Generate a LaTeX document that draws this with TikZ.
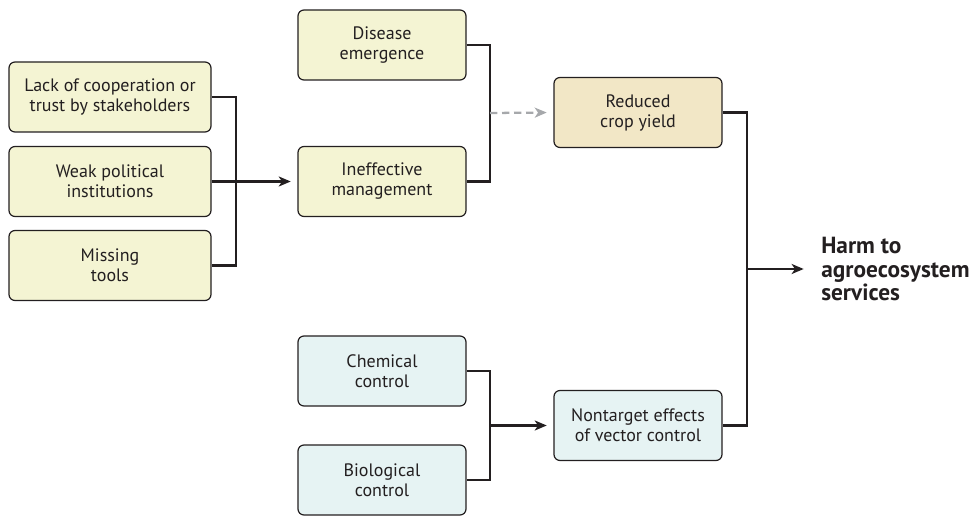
\documentclass[tikz,border=0pt]{standalone}
\usepackage{fontspec}
\setmainfont{PT Sans}
\usepackage{tikz}
\usetikzlibrary{arrows.meta}
\definecolor{ink}{HTML}{231F20}
\definecolor{boxyellow}{HTML}{F4F4D3}
\definecolor{boxtan}{HTML}{F2E7C6}
\definecolor{boxblue}{HTML}{E6F3F3}
\definecolor{dashgray}{HTML}{A6A8AB}
\tikzstyle{diagram}=[x=0.75pt, y=-0.75pt, text=ink, font=\fontsize{13.5}{15}\selectfont]
\tikzstyle{cause}=[rectangle, rounded corners=4.5pt, draw=ink, line width=0.9pt, align=center, minimum height=52.5pt]
\tikzstyle{wide}=[cause, minimum width=151.5pt]
\tikzstyle{narrow}=[cause, minimum width=126pt]
\tikzstyle{link}=[draw=ink, line width=1.7pt]
\tikzstyle{edge}=[link, -{Stealth[length=9pt, width=7.5pt, inset=2.5pt]}, shorten >=5pt]
\tikzstyle{dashedge}=[draw=dashgray, line width=1.7pt, dash pattern=on 5.5pt off 3.5pt, -{Stealth[length=9pt, width=7.5pt, inset=2.5pt]}, shorten >=5pt]
\tikzstyle{outcome}=[inner sep=0pt, anchor=west, align=left, font=\fontsize{17.5}{17.6}\selectfont\bfseries]

\begin{document}
\begin{tikzpicture}[diagram]
	\useasboundingbox (0,0) rectangle (975,516);
	% left column
	\draw (110,97) node[wide, fill=boxyellow] (lack) {Lack of cooperation or\\trust by stakeholders};
	\draw (110,181.5) node[wide, fill=boxyellow] (weak) {Weak political\\institutions};
	\draw (110,265.5) node[wide, fill=boxyellow] (missing) {Missing\\tools};
	% middle column
	\draw (382,45) node[narrow, fill=boxyellow] (disease) {Disease\\emergence};
	\draw (382,181.5) node[narrow, fill=boxyellow] (ineff) {Ineffective\\management};
	\draw (382,371) node[narrow, fill=boxblue] (chem) {Chemical\\control};
	\draw (382,480) node[narrow, fill=boxblue] (bio) {Biological\\control};
	% right column
	\draw (638,112.5) node[narrow, fill=boxtan] (reduced) {Reduced\\crop yield};
	\draw (638,425.5) node[narrow, fill=boxblue] (nontarget) {Nontarget effects\\of vector control};
	\draw (821,269) node[outcome] (harm) {Harm to\\agroecosystem\\services};
	% brackets
	\coordinate (j1) at (236,181.5);
	\coordinate (j2) at (490,113);
	\coordinate (j3) at (490,425.5);
	\coordinate (j4) at (747,269);
	\draw[link] (lack.east) -| (j1) |- (missing.east);
	\draw[edge] (weak.east) -- (ineff.west);
	\draw[link] (disease.east) -| (j2) |- (ineff.east);
	\draw[dashedge] (j2) -- (reduced.west);
	\draw[link] (chem.east) -| (j3) |- (bio.east);
	\draw[edge] (j3) -- (nontarget.west);
	\draw[link] (reduced.east) -| (j4) |- (nontarget.east);
	\draw[edge, shorten >=13pt] (j4) -- (harm.west);
\end{tikzpicture}
\end{document}
